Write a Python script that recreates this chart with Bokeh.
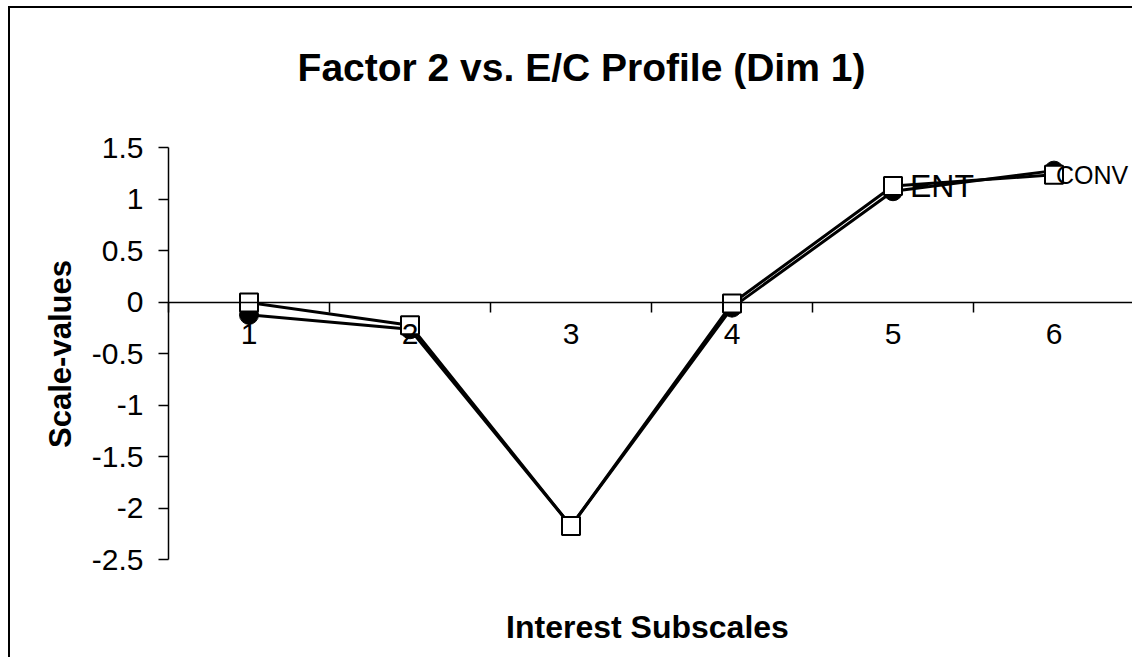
import math
from bokeh.plotting import figure
from bokeh.models import Range1d, FixedTicker, Label, ColumnDataSource
from bokeh.embed import file_html
from bokeh.resources import INLINE

# ---- data ----
categories = [1, 2, 3, 4, 5, 6]
series_circle = [-0.12, -0.26, -2.17, -0.05, 1.08, 1.28]
series_square = [0.00, -0.22, -2.17, -0.01, 1.13, 1.24]
point_labels = ["", "", "", "", "ENT", "CONV"]
y_ticks = [-2.5, -2.0, -1.5, -1.0, -0.5, 0.0, 0.5, 1.0, 1.5]
y_tick_labels = ["-2.5", "-2", "-1.5", "-1", "-0.5", "0", "0.5", "1", "1.5"]
x_tick_labels = ["1", "2", "3", "4", "5", "6"]
title_text = "Factor 2 vs. E/C Profile (Dim 1)"
x_label = "Interest Subscales"
y_label = "Scale-values"

FONT = "Liberation Sans"

x_lo, x_hi = categories[0] - 0.5, categories[-1] + 0.5
y_lo, y_hi = y_ticks[0], y_ticks[-1]

p = figure(width=1124, height=651, output_backend="svg", toolbar_location=None,
           x_range=Range1d(-0.4814, x_hi), y_range=Range1d(-3.466, 2.854),
           min_border_left=0, min_border_right=0, min_border_top=0,
           min_border_bottom=0,
           styles={"border-left": "2px solid black", "border-top": "2px solid black",
                   "margin-left": "8px", "margin-top": "6px"})
p.outline_line_color = None
p.xgrid.visible = False
p.ygrid.visible = False
p.background_fill_color = "white"
p.border_fill_color = "white"

# y axis (drawn at the left end of the category span)
yax = p.yaxis[0]
yax.fixed_location = x_lo
yax.bounds = (y_lo, y_hi)
yax.ticker = FixedTicker(ticks=y_ticks)
yax.major_label_overrides = {t: l for t, l in zip(y_ticks, y_tick_labels)}
yax.minor_tick_line_color = None
yax.major_tick_out = 10
yax.major_tick_in = 0
yax.major_tick_line_width = 1.5
yax.axis_line_width = 1.5
yax.axis_line_color = "black"
yax.major_tick_line_color = "black"
yax.major_label_text_font = FONT
yax.major_label_text_font_size = "30px"
yax.major_label_text_color = "black"
yax.major_label_standoff = 15

# x axis crossing at y = 0
xax = p.xaxis[0]
xax.fixed_location = 0
xax.bounds = (x_lo, x_hi)
xax.ticker = FixedTicker(ticks=categories,
                         minor_ticks=[c - 0.5 for c in categories] + [x_hi])
xax.major_label_overrides = {c: l for c, l in zip(categories, x_tick_labels)}
xax.major_tick_line_color = None
xax.major_tick_out = 0
xax.major_tick_in = 0
xax.minor_tick_out = 10
xax.minor_tick_in = 0
xax.minor_tick_line_color = "black"
xax.minor_tick_line_width = 1.5
xax.axis_line_width = 1.5
xax.axis_line_color = "black"
xax.major_label_text_font = FONT
xax.major_label_text_font_size = "30px"
xax.major_label_text_color = "black"
xax.major_label_standoff = 12

src = ColumnDataSource(dict(x=categories, yc=series_circle, ys=series_square))

p.line("x", "yc", source=src, line_color="black", line_width=3)
p.scatter("x", "yc", source=src, marker="circle", size=19, fill_color="black", line_color="black")
p.line("x", "ys", source=src, line_color="black", line_width=3)
p.scatter("x", "ys", source=src, marker="square", size=18, fill_color="white",
          line_color="black", line_width=2)

# point labels (series names next to their points)
label_offsets = {4: 17, 5: 2}
label_sizes = {4: "32px", 5: "25px"}
for i, txt in enumerate(point_labels):
    if txt:
        p.add_layout(Label(x=categories[i], y=series_square[i], text=txt,
                           x_offset=label_offsets.get(i, 12),
                           text_font=FONT, text_font_size=label_sizes.get(i, "30px"),
                           text_color="black", text_baseline="middle", text_align="left"))

# chart title
p.add_layout(Label(x=3.065, y=2.282, text=title_text, text_font=FONT, text_font_size="39px",
                   text_font_style="bold", text_align="center", text_baseline="alphabetic",
                   text_color="black"))
# x axis title
p.add_layout(Label(x=3.475, y=-3.155, text=x_label, text_font=FONT, text_font_size="32px",
                   text_font_style="bold", text_align="center", text_baseline="alphabetic",
                   text_color="black"))
# y axis title
p.add_layout(Label(x=-0.1708, y=(y_lo + y_hi) / 2, text=y_label, angle=math.pi / 2,
                   text_font=FONT, text_font_size="31px", text_font_style="bold",
                   text_align="center", text_baseline="middle", text_color="black"))

open("out.html", "w").write(file_html(p, INLINE))
